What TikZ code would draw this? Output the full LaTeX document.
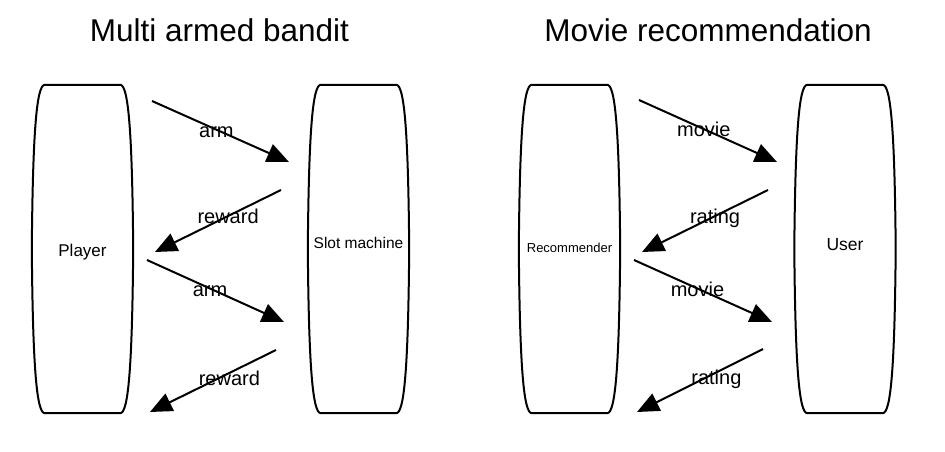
\documentclass[tikz,border=0pt]{standalone}
\usepackage{fontspec}
\setmainfont{Liberation Sans}
\usetikzlibrary{arrows.meta}
\tikzset{
  barrel/.style={minimum width=101pt, minimum height=328pt, inner sep=0pt},
  outline/.style={line width=2pt, line join=round},
  flow/.style={line width=2pt, -{Triangle[length=22pt,width=19pt]}},
  lbl/.style={font=\fontsize{20}{24}\selectfont, text height=15pt, text depth=0pt, inner sep=0pt},
  title/.style={font=\fontsize{31.5}{36}\selectfont, anchor=base}
}
\newcommand\barrel[1]{%
  \draw[outline] ([xshift=13pt]#1.north west) -- ([xshift=-13pt]#1.north east)
    .. controls +(8,0) and +(-1,-120) .. (#1.east)
    .. controls +(-1,120) and +(8,0) .. ([xshift=-13pt]#1.south east)
    -- ([xshift=13pt]#1.south west)
    .. controls +(-8,0) and +(1,120) .. (#1.west)
    .. controls +(1,-120) and +(-8,0) .. ([xshift=13pt]#1.north west) -- cycle;}
\begin{document}
\begin{tikzpicture}[x=1pt,y=-1pt]
  \useasboundingbox (0,0) rectangle (945,452);
  % titles
  \node[title] (bandit) at (219.5,42) {Multi armed bandit};
  \node[title] (movies) at (708,42) {Movie recommendation};
  % the four parties
  \node[barrel, label={[font=\fontsize{17}{20}\selectfont, yshift=-3pt]center:Player}] (player) at (82.5,249) {};
  \node[barrel, label={[font=\fontsize{15.5}{18}\selectfont, yshift=6.5pt]center:Slot machine}] (slot) at (358.5,249) {};
  \node[barrel, label={[font=\fontsize{13}{16}\selectfont, yshift=1.5pt]center:Recommender}] (rec) at (569.5,249) {};
  \node[barrel, label={[font=\fontsize{17.5}{20}\selectfont, yshift=4pt]center:User}] (user) at (845,249) {};
  \barrel{player}
  \barrel{slot}
  \barrel{rec}
  \barrel{user}
  % arrow ends
  \coordinate (arm1s) at (152,101);
  \coordinate (arm1e) at (289,162);
  \coordinate (rew1s) at (281,190);
  \coordinate (rew1e) at (155,252);
  \coordinate (arm2s) at (147,260);
  \coordinate (arm2e) at (284,322);
  \coordinate (rew2s) at (276,350);
  \coordinate (rew2e) at (150,412);
  \coordinate (mov1s) at (639,100);
  \coordinate (mov1e) at (777,162);
  \coordinate (rat1s) at (768,190);
  \coordinate (rat1e) at (642,252);
  \coordinate (mov2s) at (634,260);
  \coordinate (mov2e) at (772,322);
  \coordinate (rat2s) at (763,349);
  \coordinate (rat2e) at (637,412);
  \begin{scope}
    \draw[flow] (arm1s) -- node[lbl, pos=0.47] {arm} (arm1e);
    \draw[flow] (rew1s) -- node[lbl, pos=0.42] {reward} (rew1e);
    \draw[flow] (arm2s) -- node[lbl, pos=0.46] {arm} (arm2e);
    \draw[flow] (rew2s) -- node[lbl, pos=0.37, yshift=-5pt] {reward} (rew2e);
    \draw[flow] (mov1s) -- node[lbl, pos=0.47] {movie} (mov1e);
    \draw[flow] (rat1s) -- node[lbl, pos=0.42] {rating} (rat1e);
    \draw[flow] (mov2s) -- node[lbl, pos=0.46] {movie} (mov2e);
    \draw[flow] (rat2s) -- node[lbl, pos=0.37, yshift=-5pt] {rating} (rat2e);
  \end{scope}
\end{tikzpicture}
\end{document}
